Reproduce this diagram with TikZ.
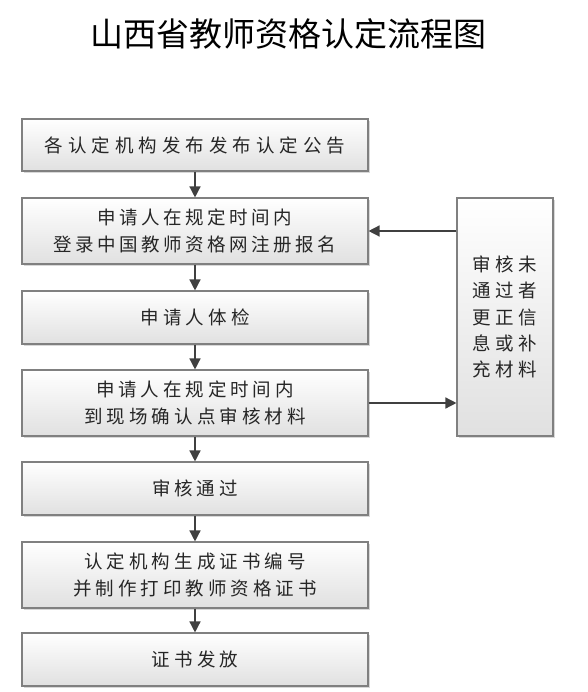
\documentclass[tikz,border=0pt]{standalone}
\usepackage{fontspec}
\setmainfont{Noto Sans CJK SC}
\usetikzlibrary{arrows.meta,shadows}
\definecolor{boxline}{HTML}{808080}
\definecolor{arrowc}{HTML}{404040}
\definecolor{txt}{HTML}{262626}
\makeatletter
\newcommand\cjkspaced[2]{\def\cjksp@w{#1}\cjksp@loop#2\relax}
\def\cjksp@loop#1{\ifx#1\relax\else\makebox[\cjksp@w][c]{#1}\expandafter\cjksp@loop\fi}
\makeatother
\tikzset{
  stepbox/.style={draw=boxline, line width=1.1pt, rectangle, inner sep=0pt,
    top color=white, bottom color=black!12, text=txt,
    drop shadow={shadow xshift=1.8pt, shadow yshift=-1.8pt, fill=black!30, opacity=0.5},
    minimum width=346pt, align=center,
    font=\fontsize{18.5pt}{26.7pt}\selectfont},
  flow/.style={draw=arrowc, line width=1.4pt, -{Triangle[length=11pt,width=11pt]}}
}
\begin{document}
\begin{tikzpicture}[x=1pt,y=-1pt]
\useasboundingbox (0,0) rectangle (587,692);
\node[font=\fontsize{33pt}{36pt}\selectfont, text=black] (title) at (288.5,34) {山西省教师资格认定流程图};
\node[stepbox, minimum height=52pt] (b1) at (195,145) {\cjkspaced{23.5pt}{各认定机构发布发布认定公告}};
\node[stepbox, minimum height=66pt] (b2) at (195,231) {\cjkspaced{22pt}{申请人在规定时间内}\\\cjkspaced{22pt}{登录中国教师资格网注册报名}};
\node[stepbox, minimum height=53pt] (b3) at (195,317.5) {\cjkspaced{22.7pt}{申请人体检}};
\node[stepbox, minimum height=66pt] (b4) at (195,403) {\cjkspaced{22.4pt}{申请人在规定时间内}\\\cjkspaced{22.6pt}{到现场确认点审核材料}};
\node[stepbox, minimum height=53pt] (b5) at (195,488.5) {\cjkspaced{22.5pt}{审核通过}};
\node[stepbox, minimum height=66pt] (b6) at (195,575) {\cjkspaced{22.6pt}{认定机构生成证书编号}\\\cjkspaced{22.5pt}{并制作打印教师资格证书}};
\node[stepbox, minimum height=53pt] (b7) at (195,659.5) {\cjkspaced{22.8pt}{证书发放}};
\node[stepbox, minimum width=96pt, minimum height=238pt, font=\fontsize{18.5pt}{26.3pt}\selectfont] (r) at (505,317) {\cjkspaced{23pt}{审核未}\\\cjkspaced{23pt}{通过者}\\\cjkspaced{23pt}{更正信}\\\cjkspaced{23pt}{息或补}\\\cjkspaced{23pt}{充材料}};
\draw[flow] (b1) -- (b2);
\draw[flow] (b2) -- (b3);
\draw[flow] (b3) -- (b4);
\draw[flow] (b4) -- (b5);
\draw[flow] (b5) -- (b6);
\draw[flow] (b6) -- (b7);
\draw[flow] (r.west |- b2.east) -- (b2.east);
\draw[flow] (b4.east) -- (b4.east -| r.west);
\end{tikzpicture}
\end{document}
